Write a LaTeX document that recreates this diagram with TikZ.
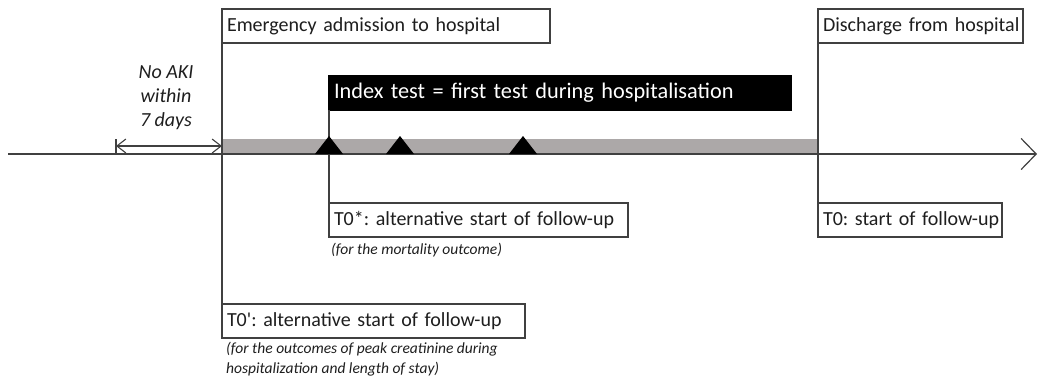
\documentclass[tikz,border=0pt]{standalone}
\usepackage{fontspec}
\setmainfont{Carlito}
\frenchspacing
\usetikzlibrary{arrows.meta}
\definecolor{lc}{RGB}{64,64,64}
\definecolor{barc}{RGB}{172,168,168}
\definecolor{tc}{RGB}{30,30,30}
\begin{document}
\begin{tikzpicture}[x=1pt,y=-1pt,
  box/.style={draw=lc, line width=1.2pt, fill=white, anchor=north west, outer sep=0pt,
    inner xsep=5pt, inner ysep=0pt, minimum height=34pt, align=left,
    font=\fontsize{20}{24}\selectfont, text=tc},
  ln/.style={draw=lc, line width=1.2pt},
  note/.style={anchor=north west, inner sep=0pt, align=left,
    font=\fontsize{15.5}{20}\selectfont\itshape, text=tc},
  tri/.pic={\fill[black] (0,-18) -- (-14,0) -- (14,0) -- cycle;},
  barb/.tip={Straight Barb[length=9pt,width=14pt]}
]
\useasboundingbox (0,0) rectangle (1038,381);

% hospital stay bar
\fill[barc] (222,139) rectangle (818,154);

% time axis
\coordinate (axL) at (8,154);
\coordinate (axR) at (1037,154);
\draw[ln, -{Straight Barb[length=15pt,width=31pt]}] (axL) -- (axR);

% boxes
\node[box, text width=318pt] (adm) at (222,9) {\mbox{Emergency admission to hospital}};
\node[box, text width=195pt] (dis) at (818,9) {\mbox{Discharge from hospital}};
\node[box, fill=black, draw=black, text=white, text width=452pt,
      font=\fontsize{22.3}{26}\selectfont] (idx) at (329,76) {\mbox{Index test = first test during hospitalisation}};
\node[box, text width=289pt] (t0s) at (329,203) {\mbox{T0*: alternative start of follow-up}};
\node[box, text width=174pt] (t0) at (818,203) {\mbox{T0: start of follow-up}};
\node[box, text width=293pt] (t0p) at (222,304) {\mbox{T0\textquotesingle: alternative start of follow-up}};

% vertical connectors
\draw[ln] (adm.south west) -- (t0p.north west);
\draw[ln] (dis.south west) -- (t0.north west);
\draw[ln] (idx.south west) -- (t0s.north west);

% tests
\pic at (329,154) {tri};
\pic at (400,154) {tri};
\pic at (523,154) {tri};

% no AKI window
\coordinate (nL) at (116,146);
\coordinate (nR) at (222,146);
\coordinate (tk1) at (116,139);
\coordinate (tk2) at (116,154);
\draw[ln, line width=1.1pt, {barb}-{barb}] (nL) -- (nR);
\draw[ln, line width=1.1pt] (tk1) -- (tk2);
\node[font=\fontsize{20}{24}\selectfont\itshape, align=center, text=tc] (noaki) at (166,98) {No AKI\\within\\7 days};

% notes
\node[note] (n1) at (331,243) {(for the mortality outcome)};
\node[note] (n2) at (226,342) {(for the outcomes of peak creatinine during\\hospitalization and length of stay)};
\end{tikzpicture}
\end{document}
